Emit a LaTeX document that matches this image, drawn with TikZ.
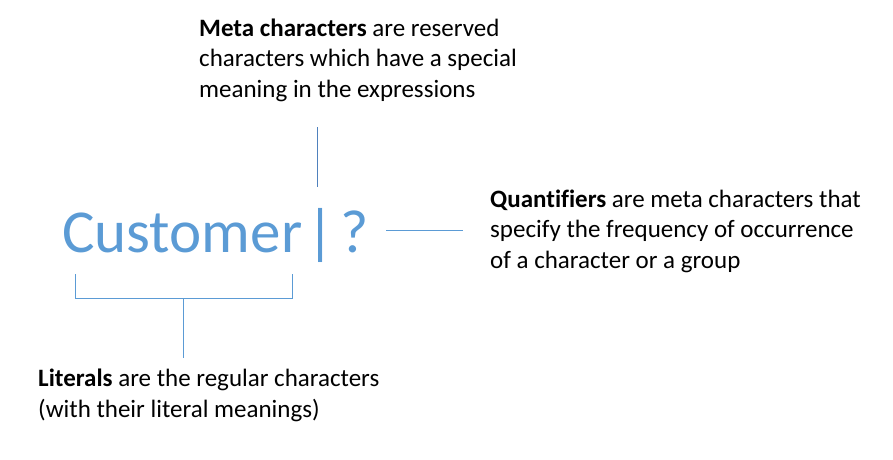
\documentclass[tikz,border=0pt]{standalone}
\usepackage{fontspec}
\setmainfont{Carlito}[Ligatures=NoCommon]
\usepackage{xcolor}
\usetikzlibrary{calc}
\definecolor{regblue}{HTML}{5B9BD5}
\definecolor{stemblue}{HTML}{4F81BD}

\begin{document}
\begin{tikzpicture}[x=1pt,y=-1pt,
  note/.style={anchor=base west,align=left,inner sep=0pt,
    font=\fontsize{25}{30.5}\selectfont},
  conn/.style={draw=regblue,line width=1pt}]
\useasboundingbox (0,0) rectangle (893,459);
% the expression
\node[anchor=base west,inner sep=0pt,text=regblue,
  font=\fontsize{61}{72}\selectfont] (expr) at (62,252)
  {Customer\kern4pt|\kern6pt?};
% the three notes (anchored on their last line)
\node[note] (meta) at (199,97) {\textbf{Meta characters} are reserved\\
  characters which have a special\\meaning in the expressions};
\node[note] (quant) at (490,268) {\textbf{Quantifiers} are meta characters that\\
  specify the frequency of occurrence\\of a character or a group};
\node[note] (lit) at (38,417) {\textbf{Literals} are the regular characters\\
  (with their literal meanings)};
% connectors
\coordinate (bar) at (317,187);
\coordinate (barup) at (317,127);
\coordinate (qleft) at (386,230);
\coordinate (qright) at (463,230);
\coordinate (brl) at (75,274);
\coordinate (brr) at (292,274);
\coordinate (stem) at (183,298);
\coordinate (stemend) at (183,358);
\draw[conn,draw=stemblue] (barup) -- (bar);
\draw[conn] (qleft) -- (qright);
\draw[conn] (brl) -- ++(0,24) -| (brr);
\draw[conn] (stem) -- (stemend);
\end{tikzpicture}
\end{document}
